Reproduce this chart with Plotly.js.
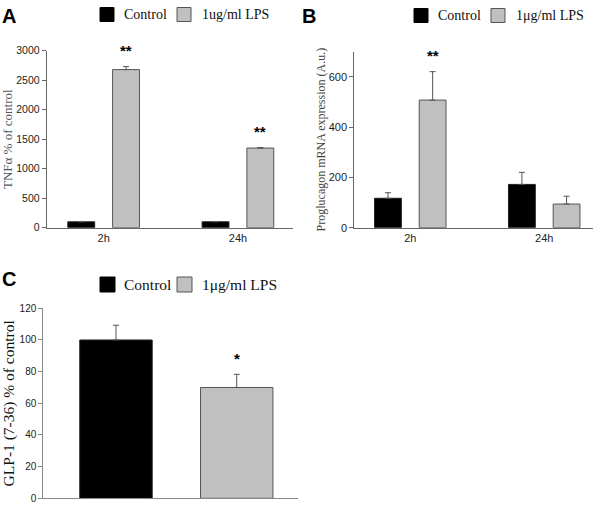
<!DOCTYPE html>
<html><head><meta charset="utf-8">
<script src="https://cdn.plot.ly/plotly-3.0.1.min.js"></script>
<style>html,body{margin:0;padding:0;background:#fff}</style>
</head><body><div id="chart" style="width:600px;height:505px"></div>
<script>
// ---- data ----
const timepoints = ['2h', '24h'];
const tnfControl = [100, 100];
const tnfControlErr = [3, 3];
const tnfLPS = [2680, 1350];
const tnfLPSErr = [50, 10];
const tnfStars = ['**', '**'];

const progControl = [117, 172];
const progControlErr = [22, 48];
const progLPS = [507, 94];
const progLPSErr = [113, 31];
const progStars = ['**', ''];

const glpGroup = ['GLP-1'];
const glpControl = [100];
const glpControlErr = [9.3];
const glpLPS = [70];
const glpLPSErr = [8.3];
const glpStars = ['*'];

const legendNames = ['Control', '1ug/ml LPS', '1\u03bcg/ml LPS'];

// ---- styling ----
const W = 600, H = 505;
const BLACK = '#000000', GRAY = '#c0c0c0', EDGE = '#555555';
const SANS = 'Liberation Sans, Arial, sans-serif';
const SERIF = 'Liberation Serif, Times New Roman, serif';
const BARGAP = 0.333;
const px = v => v / W;
const py = v => 1 - v / H;

function barTrace(x, y, err, color, xa, ya) {
  return {
    type: 'bar', x: x, y: y, xaxis: xa, yaxis: ya,
    marker: {color: color, line: {color: color === BLACK ? '#222' : EDGE, width: 1}},
    error_y: {type: 'data', symmetric: false, array: err, arrayminus: err.map(() => 0),
              color: EDGE, thickness: 1, width: 3},
    showlegend: false, hoverinfo: 'skip'
  };
}

const data = [
  barTrace(timepoints, tnfControl, tnfControlErr, BLACK, 'x', 'y'),
  barTrace(timepoints, tnfLPS, tnfLPSErr, GRAY, 'x', 'y'),
  barTrace(timepoints, progControl, progControlErr, BLACK, 'x2', 'y2'),
  barTrace(timepoints, progLPS, progLPSErr, GRAY, 'x2', 'y2'),
  barTrace(glpGroup, glpControl, glpControlErr, BLACK, 'x3', 'y3'),
  barTrace(glpGroup, glpLPS, glpLPSErr, GRAY, 'x3', 'y3')
];

const annotations = [];
const lpsOffset = (1 - BARGAP) / 4;
function addStars(stars, vals, errs, xr, yr) {
  stars.forEach((s, i) => {
    if (!s) return;
    annotations.push({xref: xr, yref: yr, x: i + lpsOffset, y: vals[i] + errs[i],
      text: '<b>' + s + '</b>', showarrow: false, yanchor: 'middle', yshift: 16,
      font: {family: SANS, size: 15, color: '#000'}});
  });
}
addStars(tnfStars, tnfLPS, tnfLPSErr, 'x', 'y');
addStars(progStars, progLPS, progLPSErr, 'x2', 'y2');
addStars(glpStars, glpLPS, glpLPSErr, 'x3', 'y3');

// panel letters
[['A', 0, 3], ['B', 300, 3], ['C', 0, 266]].forEach(([t, x, y]) => {
  annotations.push({xref: 'paper', yref: 'paper', x: px(x), y: py(y), xanchor: 'left', yanchor: 'top',
    text: '<b>' + t + '</b>', showarrow: false, font: {family: SANS, size: 20, color: '#000'}});
});

// legends (key squares + labels)
const shapes = [];
function addLegend(x0, yTop, size, labelLPS, fsize) {
  const items = [[x0, BLACK, legendNames[0], x0 + 22], [x0 + 77, GRAY, labelLPS, x0 + 100]];
  items.forEach(([sx, col, lab, tx]) => {
    shapes.push({type: 'rect', xref: 'paper', yref: 'paper', x0: px(sx), x1: px(sx + size),
      y0: py(yTop + size), y1: py(yTop), fillcolor: col, line: {color: col === BLACK ? BLACK : EDGE, width: 1}});
    annotations.push({xref: 'paper', yref: 'paper', x: px(tx), y: py(yTop + size / 2),
      xanchor: 'left', yanchor: 'middle', text: lab, showarrow: false,
      font: {family: SERIF, size: fsize, color: '#111'}});
  });
}
addLegend(100, 7.5, 14, legendNames[1], 14);
addLegend(414, 8.5, 14, legendNames[2], 14);
addLegend(100, 277, 15, legendNames[2], 15.5);

function yax(domain, range, dtick, title, tsize, tcolor, standoff, lc, fsize) {
  return {domain: domain, range: range, dtick: dtick, showgrid: false, zeroline: false,
    showline: true, linecolor: lc, linewidth: 1, ticks: 'outside', ticklen: 4, tickcolor: lc,
    tickfont: {family: SANS, size: fsize, color: '#222'},
    title: {text: title, font: {family: SERIF, size: tsize, color: tcolor}, standoff: standoff},
    fixedrange: true};
}
function xax(domain, range, anchor, showlabels, lc) {
  return {domain: domain, range: range, anchor: anchor, type: 'category', showgrid: false,
    zeroline: false, showline: true, linecolor: lc, linewidth: 1, ticks: '',
    showticklabels: showlabels, tickfont: {family: SANS, size: 11, color: '#222'}, fixedrange: true};
}

const layout = {
  width: W, height: H, margin: {l: 0, r: 0, t: 0, b: 0},
  paper_bgcolor: '#fff', plot_bgcolor: 'rgba(0,0,0,0)',
  barmode: 'group', bargap: BARGAP, bargroupgap: 0.4, showlegend: false,
  xaxis: xax([px(46.7), px(293)], [-0.424, 1.41], 'y', true, '#666'),
  yaxis: Object.assign(yax([py(227.7), py(50.7)], [0, 3000], 500, 'TNF\u03b1 % of control', 13, '#555', 0, '#666', 10.5), {anchor: 'x'}),
  xaxis2: xax([px(354.3), px(593)], [-0.418, 1.364], 'y2', true, '#666'),
  yaxis2: Object.assign(yax([py(227.7), py(227.7 - 700 * 0.2517)], [0, 700], 200, 'Proglucagon mRNA expression (A.u.)', 12, '#444', 0, '#666', 11), {anchor: 'x2'}),
  xaxis3: xax([px(43.3), px(298)], [-0.3675, 0.336], 'y3', false, '#888'),
  yaxis3: Object.assign(yax([py(498.3), py(308.3)], [0, 120], 20, 'GLP-1 (7-36) % of control', 15.5, '#111', 8, '#888', 10), {anchor: 'x3'}),
  annotations: annotations, shapes: shapes
};

Plotly.newPlot('chart', data, layout, {displayModeBar: false, staticPlot: true});
</script></body></html>
